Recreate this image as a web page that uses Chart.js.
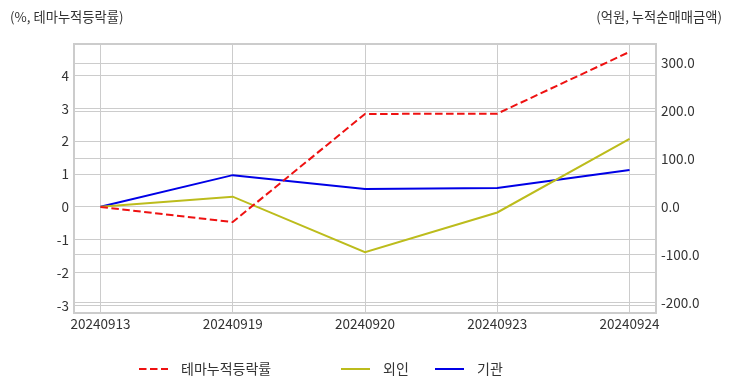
<!DOCTYPE html>
<html>
<head>
<meta charset="utf-8">
<script src="https://cdn.jsdelivr.net/npm/chart.js@4"></script>
<style>
    body { margin: 0; background: #fff; }
    #wrap { position: relative; width: 732px; height: 392px; }
    .axis-title { position: absolute; top: 7px; font: 13.3px 'Noto Sans CJK KR', sans-serif; color: #333; }
    #titleLeft { left: 10px; }
    #titleRight { right: 10px; }
</style>
</head>
<body>
<div id="wrap">
    <canvas id="themeChart" width="732" height="392"></canvas>
    <div class="axis-title" id="titleLeft">(%, 테마누적등락률)</div>
    <div class="axis-title" id="titleRight">(억원, 누적순매매금액)</div>
</div>
<script>
// chart data
const dates = ['20240913', '20240919', '20240920', '20240923', '20240924'];
const themeReturn = [0, -0.46, 2.83, 2.84, 4.72];   // %, left axis
const foreignNet = [0, 21, -95, -12, 142];          // 억원, right axis
const institutionNet = [0, 66, 37, 39, 77];         // 억원, right axis

function toPoints(values) {
    return values.map((v, i) => ({ x: i, y: v }));
}

// draws the light grey frame round the plot
const framePlugin = {
    id: 'frame',
    beforeDatasetsDraw(chart) {
        const a = chart.chartArea;
        const ctx = chart.ctx;
        ctx.save();
        ctx.strokeStyle = '#cccccc';
        ctx.lineWidth = 2;
        ctx.strokeRect(a.left, a.top, a.right - a.left, a.bottom - a.top);
        ctx.restore();
    }
};

// legend under the chart, same look as the reference
const legendPlugin = {
    id: 'bottomLegend',
    afterDraw(chart) {
        const ctx = chart.ctx;
        const slots = [139, 341, 435];
        const y = 369;
        ctx.save();
        ctx.font = "14px 'Noto Sans CJK KR', sans-serif";
        ctx.textBaseline = 'middle';
        chart.data.datasets.forEach((ds, i) => {
            const x = slots[i];
            ctx.strokeStyle = ds.borderColor;
            ctx.lineWidth = 2;
            ctx.setLineDash(ds.borderDash || []);
            ctx.beginPath();
            ctx.moveTo(x, y);
            ctx.lineTo(x + 29, y);
            ctx.stroke();
            ctx.setLineDash([]);
            ctx.fillStyle = '#333';
            ctx.fillText(ds.label, x + 42, y);
        });
        ctx.restore();
    }
};

Chart.defaults.font.family = "'Noto Sans CJK KR', sans-serif";
Chart.defaults.font.size = 13.5;
Chart.defaults.color = '#333';

const ctx = document.getElementById('themeChart').getContext('2d');
new Chart(ctx, {
    type: 'line',
    data: {
        datasets: [
            {
                label: '테마누적등락률',
                data: toPoints(themeReturn),
                borderColor: '#ee1111',
                borderDash: [7.5, 3.5],
                borderWidth: 2,
                pointRadius: 0,
                yAxisID: 'yLeft'
            },
            {
                label: '외인',
                data: toPoints(foreignNet),
                borderColor: '#bcbc1c',
                borderWidth: 2,
                pointRadius: 0,
                yAxisID: 'yRight'
            },
            {
                label: '기관',
                data: toPoints(institutionNet),
                borderColor: '#0000e6',
                borderWidth: 2,
                pointRadius: 0,
                yAxisID: 'yRight'
            }
        ]
    },
    options: {
        responsive: false,
        animation: false,
        layout: { padding: { top: 44, left: 0, right: 0, bottom: 0 } },
        plugins: {
            legend: { display: false },
            tooltip: { enabled: false }
        },
        scales: {
            x: {
                type: 'linear',
                min: -0.2,
                max: 4.2,
                ticks: {
                    stepSize: 1,
                    includeBounds: false,
                    padding: 3,
                    maxRotation: 0,
                    callback: v => Number.isInteger(v) ? dates[v] : ''
                },
                grid: { color: '#cccccc', drawTicks: false },
                border: { display: false },
                afterFit: scale => { scale.height = 79; }
            },
            yLeft: {
                position: 'left',
                min: -3.23,
                max: 4.96,
                ticks: { stepSize: 1, includeBounds: false, padding: 5 },
                grid: { color: '#cccccc', drawTicks: false },
                border: { display: false },
                afterFit: scale => { scale.width = 74; }
            },
            yRight: {
                position: 'right',
                min: -222,
                max: 340,
                ticks: {
                    stepSize: 100,
                    includeBounds: false,
                    padding: 5,
                    callback: v => v.toFixed(1)
                },
                grid: { color: '#cccccc', drawTicks: false },
                border: { display: false },
                afterFit: scale => { scale.width = 76; }
            }
        }
    },
    plugins: [framePlugin, legendPlugin]
});
</script>
</body>
</html>
